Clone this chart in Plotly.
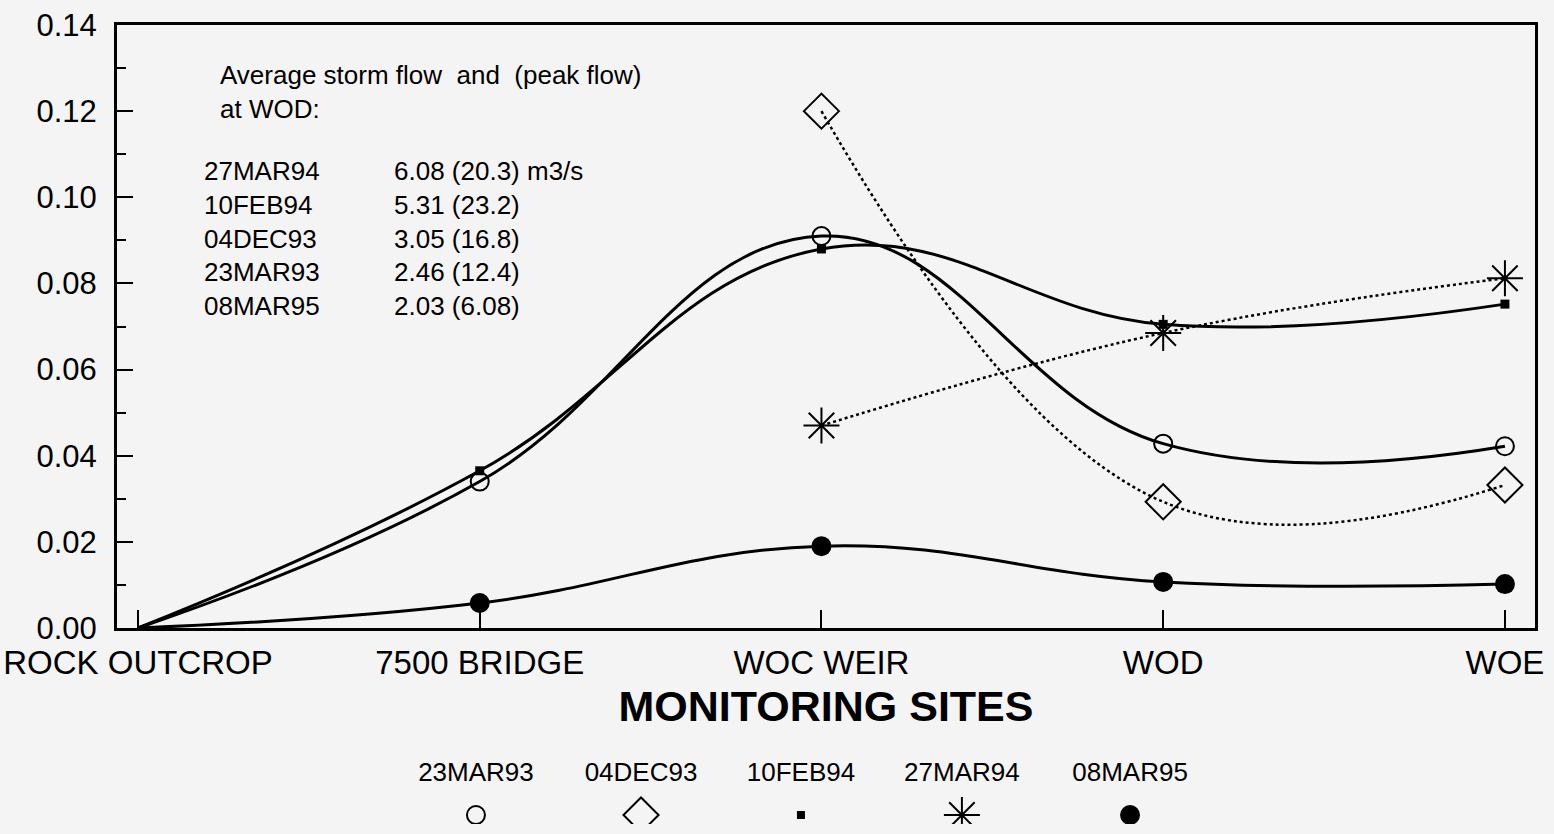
import plotly.graph_objects as go

# ---------------- data ----------------
sites = ["ROCK OUTCROP", "7500 BRIDGE", "WOC WEIR", "WOD", "WOE"]
site_idx = [0, 1, 2, 3, 4]

s_23mar93 = [0.0, 0.034, 0.091, 0.0428, 0.0422]
s_04dec93 = [None, None, 0.120, 0.0293, 0.0332]
s_10feb94 = [0.0, 0.0365, 0.088, 0.0705, 0.0752]
s_27mar94 = [None, None, 0.047, 0.0685, 0.0812]
s_08mar95 = [0.0, 0.0058, 0.019, 0.0107, 0.0102]

series_names = ["23MAR93", "04DEC93", "10FEB94", "27MAR94", "08MAR95"]

y_ticks = [0.00, 0.02, 0.04, 0.06, 0.08, 0.10, 0.12, 0.14]

note_header = ["Average storm flow&nbsp; and&nbsp; (peak flow)", "at WOD:"]
note_dates = ["27MAR94", "10FEB94", "04DEC93", "23MAR93", "08MAR95"]
note_flows = ["6.08 (20.3) m3/s", "5.31 (23.2)", "3.05 (16.8)", "2.46 (12.4)", "2.03 (6.08)"]

# ---------------- styles ----------------
FONT = "Liberation Sans"
BG = "#f4f4f4"
styles = {
    "23MAR93": dict(symbol="circle-open", size=18, dash="solid", lw=3, mlw=2),
    "04DEC93": dict(symbol="diamond-open", size=27, dash="dot", lw=2.5, mlw=2),
    "10FEB94": dict(symbol="square", size=9, dash="solid", lw=3, mlw=0),
    "27MAR94": dict(symbol="asterisk-open", size=30, dash="dot", lw=2.5, mlw=2),
    "08MAR95": dict(symbol="circle", size=20, dash="solid", lw=3, mlw=0),
}
values = dict(zip(series_names, [s_23mar93, s_04dec93, s_10feb94, s_27mar94, s_08mar95]))

fig = go.Figure()

for name in series_names:
    st = styles[name]
    # no marker drawn at the ROCK OUTCROP origin (as in the original)
    sizes = [0 if i == 0 else st["size"] for i in site_idx]
    fig.add_trace(go.Scatter(
        x=site_idx, y=values[name], mode="lines+markers", name=name,
        connectgaps=False,
        line=dict(color="black", width=st["lw"], dash=st["dash"], shape="spline", smoothing=1.2),
        marker=dict(symbol=st["symbol"], size=sizes, color="black", opacity=1,
                    line=dict(color="black", width=st["mlw"])),
        showlegend=False, xaxis="x", yaxis="y",
    ))

# custom legend (labels above markers) on a hidden helper axis
LEGEND_X = [0.989, 1.472, 1.940, 2.411, 2.903]
fig.add_trace(go.Scatter(
    x=LEGEND_X, y=[0.52] * len(series_names), mode="text", text=series_names,
    textfont=dict(family=FONT, size=26, color="black"),
    textposition="middle center", showlegend=False, xaxis="x2", yaxis="y2", hoverinfo="skip",
))
for name, lx in zip(series_names, LEGEND_X):
    st = styles[name]
    fig.add_trace(go.Scatter(
        x=[lx], y=[0.094], mode="markers",
        marker=dict(symbol=st["symbol"], size=st["size"] if name != "10FEB94" else 8,
                    color="black", opacity=1, line=dict(color="black", width=st["mlw"])),
        showlegend=False, xaxis="x2", yaxis="y2", hoverinfo="skip",
    ))

XR = [-0.0614, 4.088]
MAIN_DOMAIN = [0.2453, 1.0]

fig.update_layout(
    template="none",
    width=1554, height=834,
    margin=dict(l=117, r=19, t=25, b=10, pad=0),
    paper_bgcolor=BG, plot_bgcolor=BG,
    font=dict(family=FONT, color="black"),
    xaxis=dict(
        range=XR, tickmode="array", tickvals=site_idx, ticktext=sites,
        ticks="inside", ticklen=18, tickwidth=2, tickcolor="black",
        showline=True, linecolor="black", linewidth=3, mirror=True,
        showgrid=False, zeroline=False, automargin=False,
        tickfont=dict(family=FONT, size=33, color="black"),
        ticklabelstandoff=3,
        title=dict(text="<b>MONITORING SITES</b>", font=dict(family=FONT, size=43, color="black"),
                   standoff=12),
        anchor="y",
    ),
    yaxis=dict(
        domain=MAIN_DOMAIN, range=[0, 0.14], tickmode="array", tickvals=y_ticks,
        ticktext=[f"{v:.2f}" for v in y_ticks],
        ticks="inside", ticklen=16, tickwidth=2, tickcolor="black",
        minor=dict(dtick=0.01, ticks="inside", ticklen=9, tickwidth=2, tickcolor="black"),
        showline=True, linecolor="black", linewidth=3, mirror=True,
        showgrid=False, zeroline=False, automargin=False,
        tickfont=dict(family=FONT, size=31, color="black"),
        ticklabelstandoff=11,
        anchor="x",
    ),
    xaxis2=dict(range=XR, visible=False, anchor="y2", automargin=False),
    yaxis2=dict(domain=[0, 0.12], range=[0, 1], visible=False, anchor="x2", automargin=False),
)

# annotation block
fig.add_annotation(
    xref="x domain", yref="y domain", x=0.0712, y=0.945, xanchor="left", yanchor="top",
    text="<br>".join(note_header), showarrow=False, align="left",
    font=dict(family=FONT, size=26, color="black"),
)
fig.add_annotation(
    xref="x domain", yref="y domain", x=0.0599, y=0.786, xanchor="left", yanchor="top",
    text="<br>".join(note_dates), showarrow=False, align="left",
    font=dict(family=FONT, size=26, color="black"),
)
fig.add_annotation(
    xref="x domain", yref="y domain", x=0.194, y=0.786, xanchor="left", yanchor="top",
    text="<br>".join(note_flows), showarrow=False, align="left",
    font=dict(family=FONT, size=26, color="black"),
)

fig.write_html("out.html", config={"displayModeBar": False},
               post_script="document.body.style.margin='0';")
